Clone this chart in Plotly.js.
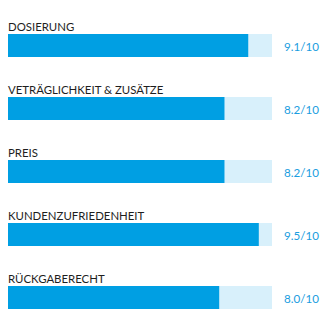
<!DOCTYPE html>
<html><head><meta charset="utf-8">
<script src="https://cdn.plot.ly/plotly-3.0.1.min.js"></script>
<style>html,body{margin:0;padding:0;background:#fff}#c{width:321px;height:330px}</style>
</head><body><div id="c"></div>
<script>
const categories = ["DOSIERUNG", "VETRÄGLICHKEIT & ZUSÄTZE", "PREIS", "KUNDENZUFRIEDENHEIT", "RÜCKGABERECHT"];
const scores = [9.1, 8.2, 8.2, 9.5, 8.0];
const maxScore = 10;
const valueLabels = scores.map(s => s.toFixed(1) + "/" + maxScore);
const idx = categories.map((c, i) => i);

const track = {type: "bar", orientation: "h", y: idx, x: categories.map(() => maxScore),
  marker: {color: "#d8f0fb"}, width: 0.365, hoverinfo: "skip", showlegend: false};
const fill = {type: "bar", orientation: "h", y: idx, x: scores,
  marker: {color: "#009fe3"}, width: 0.365, hoverinfo: "skip", showlegend: false};

const annotations = [];
categories.forEach((c, i) => {
  annotations.push({xref: "paper", yref: "y", x: 0, y: i, xanchor: "left", yanchor: "middle",
    xshift: -2, yshift: 19, text: c, showarrow: false, font: {family: "Lato", size: 11.4, color: "#1e1e1e"}});
  annotations.push({xref: "x", yref: "y", x: maxScore, y: i, xanchor: "left", yanchor: "middle",
    xshift: 10, yshift: -1, text: valueLabels[i], showarrow: false, font: {family: "Lato", size: 11.6, color: "#1a9de0"}});
});

Plotly.newPlot("c", [track, fill], {
  width: 321, height: 330, barmode: "overlay",
  margin: {l: 8, r: 49, t: 14, b: 1},
  paper_bgcolor: "#fff", plot_bgcolor: "#fff",
  xaxis: {range: [0, maxScore], visible: false, fixedrange: true},
  yaxis: {range: [4.5, -0.5], visible: false, fixedrange: true},
  annotations: annotations
}, {displayModeBar: false, staticPlot: true});
</script></body></html>
